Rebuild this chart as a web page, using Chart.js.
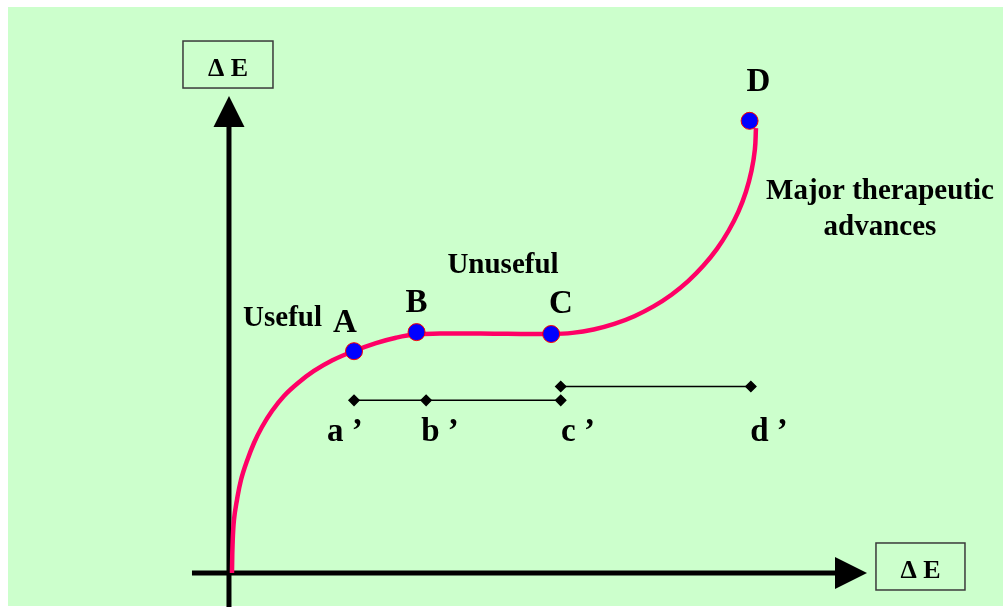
<!DOCTYPE html>
<html>
<head>
<meta charset="utf-8">
<script src="https://cdn.jsdelivr.net/npm/chart.js@4/dist/chart.umd.min.js"></script>
<style>
  html, body { margin: 0; padding: 0; background: #ffffff; }
  #wrap { width: 1003px; height: 607px; position: relative; }
</style>
</head>
<body>
<div id="wrap"><canvas id="c" width="1003" height="607"></canvas></div>
<script>
// ---- data (axis units: 0..100 from origin to arrow tips) ----
const curveX = [0.47, 0.56, 0.78, 1.25, 1.88, 2.82, 3.92, 5.17, 6.74, 8.62, 10.82, 13.32, 16.14, 19.59, 23.04, 26.18, 29.31,
                33.07, 37.30, 41.54, 45.77, 50.47,
                53.82, 57.15, 60.39, 63.54, 66.54, 69.36, 71.97, 74.34, 76.46, 78.29, 79.83, 81.03, 81.90, 82.43, 82.60];
const curveY = [0.0, 5.87, 11.11, 15.30, 19.50, 23.48, 27.25, 30.61, 33.96, 37.11, 39.83, 42.35, 44.55, 46.54, 48.20, 49.33, 50.04,
                50.19, 50.20, 50.17, 50.13, 50.10,
                50.34, 51.05, 52.22, 53.84, 55.89, 58.34, 61.19, 64.40, 67.90, 71.70, 75.72, 79.94, 84.32, 88.78, 93.29];

const pointLabels = ["A", "B", "C", "D"];
const pointX = [19.6, 29.4, 50.5, 81.6];
const pointY = [46.5, 50.5, 50.1, 94.8];

const segLowLabels = ["a ’", "b ’", "c ’"];
const segLowX = [19.6, 30.9, 52.0];
const segLowY = [36.2, 36.2, 36.2];

const segHighLabels = ["c ’", "d ’"];
const segHighX = [52.0, 81.8];
const segHighY = [39.1, 39.1];

const axisLabel = "Δ E";
const noteTexts = ["Useful", "Unuseful", "Major therapeutic", "advances"];

// text anchor positions (axis units)
const pointLabelPos = [[18.18, 50.52], [29.39, 54.72], [52.04, 54.51], [82.99, 101.05]];
const primeLabelPos = [[18.18, 27.67], [33.07, 27.67], [54.70, 27.67], [84.64, 27.67]];
const notePos = [[8.39, 51.78], [42.95, 62.89], [102.04, 78.41], [102.04, 70.86]];

const toXY = (xs, ys) => xs.map((x, i) => ({ x: x, y: ys[i] }));

const diagramPlugin = {
  id: 'diagram',
  beforeDraw(chart) {
    const ctx = chart.ctx;
    ctx.save();
    ctx.fillStyle = '#ffffff';
    ctx.fillRect(0, 0, chart.width, chart.height);
    ctx.fillStyle = '#CCFFCC';
    ctx.fillRect(8, 7, chart.width - 8, chart.height - 8);
    ctx.restore();
  },
  beforeDatasetsDraw(chart) {
    const ctx = chart.ctx;
    const xs = chart.scales.x, ys = chart.scales.y;
    const ox = xs.getPixelForValue(0), oy = ys.getPixelForValue(0);
    const topTip = ys.getPixelForValue(100);
    const rightTip = xs.getPixelForValue(100);
    ctx.save();
    ctx.strokeStyle = '#000';
    ctx.fillStyle = '#000';
    ctx.lineWidth = 5;
    // vertical axis
    ctx.beginPath();
    ctx.moveTo(ox, chart.height);
    ctx.lineTo(ox, topTip + 30);
    ctx.stroke();
    ctx.beginPath();
    ctx.moveTo(ox, topTip);
    ctx.lineTo(ox - 15.5, topTip + 31);
    ctx.lineTo(ox + 15.5, topTip + 31);
    ctx.closePath();
    ctx.fill();
    // horizontal axis
    ctx.beginPath();
    ctx.moveTo(xs.getPixelForValue(-5.8), oy);
    ctx.lineTo(rightTip - 31, oy);
    ctx.stroke();
    ctx.beginPath();
    ctx.moveTo(rightTip, oy);
    ctx.lineTo(rightTip - 32, oy - 16);
    ctx.lineTo(rightTip - 32, oy + 16);
    ctx.closePath();
    ctx.fill();

    // axis label boxes
    const boxes = [
      [xs.getPixelForValue(-7.21), ys.getPixelForValue(111.53), 90, 47],
      [xs.getPixelForValue(101.41), ys.getPixelForValue(6.29), 89, 47]
    ];
    ctx.lineWidth = 1.5;
    ctx.strokeStyle = '#3a3a3a';
    ctx.font = 'bold 26px "Liberation Serif", "Times New Roman", serif';
    ctx.textAlign = 'center';
    ctx.textBaseline = 'alphabetic';
    boxes.forEach(b => {
      ctx.fillStyle = '#CCFFCC';
      ctx.fillRect(b[0], b[1], b[2], b[3]);
      ctx.strokeRect(b[0], b[1], b[2], b[3]);
      ctx.fillStyle = '#000';
      ctx.fillText(axisLabel, b[0] + b[2] / 2, b[1] + 35);
    });
    ctx.restore();
  },
  afterDatasetsDraw(chart) {
    const ctx = chart.ctx;
    const xs = chart.scales.x, ys = chart.scales.y;
    ctx.save();
    ctx.fillStyle = '#000';
    ctx.textAlign = 'center';
    ctx.textBaseline = 'alphabetic';
    ctx.font = 'bold 33px "Liberation Serif", "Times New Roman", serif';
    pointLabels.forEach((t, i) => {
      ctx.fillText(t, xs.getPixelForValue(pointLabelPos[i][0]), ys.getPixelForValue(pointLabelPos[i][1]));
    });
    const primes = segLowLabels.concat(segHighLabels.slice(1));
    primes.forEach((t, i) => {
      ctx.fillText(t, xs.getPixelForValue(primeLabelPos[i][0]), ys.getPixelForValue(primeLabelPos[i][1]));
    });
    ctx.font = 'bold 29px "Liberation Serif", "Times New Roman", serif';
    noteTexts.forEach((t, i) => {
      ctx.fillText(t, xs.getPixelForValue(notePos[i][0]), ys.getPixelForValue(notePos[i][1]));
    });
    ctx.restore();
  }
};

new Chart(document.getElementById('c'), {
  type: 'scatter',
  data: {
    datasets: [
      {
        label: 'points',
        data: toXY(pointX, pointY),
        pointRadius: 8.5,
        pointBackgroundColor: '#0000FF',
        pointBorderColor: '#FF0000',
        pointBorderWidth: 1,
        showLine: false,
        order: 0
      },
      {
        label: 'curve',
        data: toXY(curveX, curveY),
        showLine: true,
        borderColor: '#FF0066',
        borderWidth: 4.5,
        pointRadius: 0,
        tension: 0.4,
        fill: false,
        order: 1
      },
      {
        label: 'low',
        data: toXY(segLowX, segLowY),
        showLine: true,
        borderColor: '#000',
        borderWidth: 1.5,
        pointStyle: 'rectRot',
        pointRadius: 5,
        pointBackgroundColor: '#000',
        pointBorderColor: '#000',
        order: 2
      },
      {
        label: 'high',
        data: toXY(segHighX, segHighY),
        showLine: true,
        borderColor: '#000',
        borderWidth: 1.5,
        pointStyle: 'rectRot',
        pointRadius: 5,
        pointBackgroundColor: '#000',
        pointBorderColor: '#000',
        order: 2
      }
    ]
  },
  options: {
    responsive: false,
    animation: false,
    clip: false,
    layout: { padding: 0, autoPadding: false },
    plugins: { legend: { display: false }, tooltip: { enabled: false } },
    scales: {
      x: { type: 'linear', display: false, min: -35.89, max: 121.32 },
      y: { type: 'linear', display: false, min: -7.13, max: 120.13 }
    }
  },
  plugins: [diagramPlugin]
});
</script>
</body>
</html>
